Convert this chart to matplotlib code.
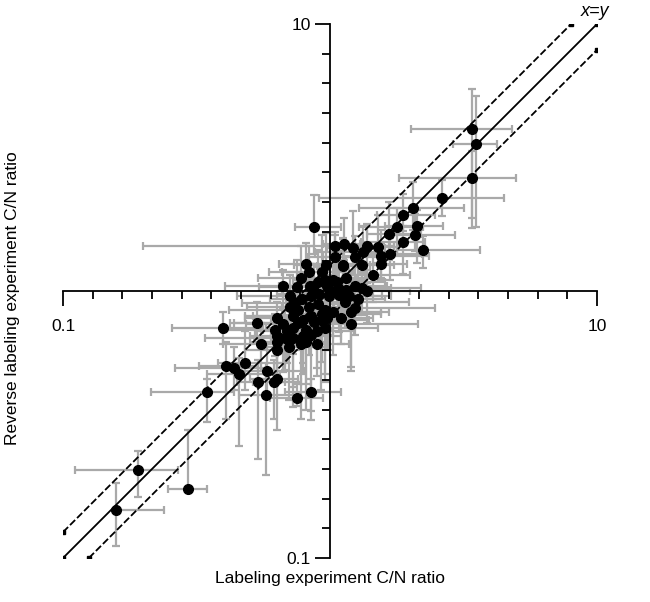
import numpy as np
import matplotlib
matplotlib.use("Agg")
import matplotlib.pyplot as plt
from matplotlib.ticker import FixedLocator, FixedFormatter

plt.rcParams["font.family"] = ["Liberation Sans", "DejaVu Sans"]

# log10 of C/N ratios, plus error bar extents (decades)
log_x = [-0.80, -0.72, -0.53, -0.46, -0.39, -0.36, -0.32, -0.34, -0.26, -0.20,
         -0.235, -0.27, -0.24, -0.21, -0.20, -0.125, -0.07, -0.40, -0.275, -0.20,
         -0.06, 0.02, 0.53, 0.547, 0.53, 0.42, 0.31, 0.275, 0.25, 0.22,
         0.325, 0.32, 0.275, 0.35, 0.225, 0.19, 0.19, 0.18, 0.14, 0.125,
         0.087, 0.052, 0.094, 0.12, 0.019, 0.048, -0.015,
         -0.11, -0.08, -0.03, -0.175, -0.125, -0.075, -0.045, -0.02, 0.025, 0.06,
         0.095, 0.12, -0.15, -0.105, -0.07, -0.04, -0.005, 0.06, 0.035, 0.055,
         -0.15, -0.12, -0.08, -0.045, -0.02, 0.01, 0.08, 0.095, -0.14, -0.10,
         -0.07, -0.035, -0.01, -0.175, -0.14, -0.09, -0.05, -0.02, -0.205, -0.20,
         -0.17, -0.14, -0.10, -0.07, 0.01, 0.14, 0.105, 0.08, -0.06, -0.20,
         -0.155, -0.09, -0.05, -0.11, 0.05, 0.16, -0.09,
         0.0, 0.03, -0.01, 0.07, -0.06, -0.13, -0.03, 0.04, -0.16, -0.12]
log_y = [-0.82, -0.67, -0.74, -0.38, -0.28, -0.29, -0.27, -0.31, -0.20, -0.19,
         -0.30, -0.34, -0.39, -0.34, -0.33, -0.40, -0.38, -0.14, -0.12, -0.10,
         0.24, 0.17, 0.605, 0.55, 0.425, 0.35, 0.31, 0.285, 0.24, 0.215,
         0.245, 0.21, 0.185, 0.155, 0.14, 0.13, 0.10, 0.165, 0.17, 0.145,
         0.16, 0.175, 0.126, 0.097, 0.128, 0.097, 0.097,
         0.05, 0.07, 0.07, 0.02, 0.015, 0.02, 0.035, 0.04, 0.035, 0.05,
         0.02, 0.01, -0.02, -0.03, -0.02, -0.01, -0.02, 0.005, -0.015, -0.04,
         -0.06, -0.07, -0.06, -0.05, -0.07, -0.08, -0.08, -0.065, -0.095, -0.11,
         -0.095, -0.11, -0.10, -0.125, -0.14, -0.145, -0.15, -0.14, -0.145, -0.17,
         -0.175, -0.175, -0.17, -0.165, 0.04, 0.0, -0.03, -0.125, -0.115, -0.22,
         -0.21, -0.19, -0.20, -0.20, 0.095, 0.06, 0.10,
         -0.005, 0.01, 0.02, -0.02, 0.0, -0.045, -0.085, -0.10, -0.15, -0.12]
xerr_lo = [0.00, 0.235, 0.075, 0.21, 0.10, 0.22, 0.10, 0.12, 0.14, 0.10,
           0.12, 0.08, 0.10, 0.08, 0.10, 0.10, 0.10, 0.19, 0.10, 0.12,
           0.07, 0.72, 0.225, 0.086, 0.27, 0.46, 0.20, 0.10, 0.14, 0.08,
           0.12, 0.10, 0.16, 0.10, 0.14, 0.10, 0.20, 0.12, 0.08, 0.18,
           0.10, 0.08, 0.12, 0.06, 0.10, 0.14, 0.12,
           0.16, 0.10, 0.20, 0.22, 0.14, 0.10, 0.08, 0.12, 0.10, 0.14,
           0.08, 0.10, 0.20, 0.12, 0.08, 0.16, 0.10, 0.12, 0.06, 0.10,
           0.16, 0.26, 0.10, 0.12, 0.08, 0.10, 0.12, 0.08, 0.18, 0.12,
           0.22, 0.08, 0.10, 0.14, 0.10, 0.16, 0.08, 0.12, 0.20, 0.10,
           0.30, 0.08, 0.12, 0.10, 0.08, 0.10, 0.14, 0.10, 0.14, 0.12,
           0.10, 0.16, 0.08, 0.10, 0.10, 0.08, 0.10,
           0.14, 0.10, 0.18, 0.08, 0.12, 0.20, 0.10, 0.16, 0.12, 0.24]
xerr_hi = [0.18, 0.15, 0.07, 0.10, 0.12, 0.12, 0.15, 0.10, 0.10, 0.12,
           0.14, 0.10, 0.12, 0.10, 0.08, 0.10, 0.11, 0.15, 0.10, 0.08,
           0.10, 0.22, 0.15, 0.078, 0.165, 0.23, 0.19, 0.12, 0.10, 0.12,
           0.10, 0.15, 0.08, 0.21, 0.12, 0.18, 0.10, 0.08, 0.10, 0.06,
           0.12, 0.06, 0.10, 0.12, 0.08, 0.10, 0.06,
           0.10, 0.14, 0.08, 0.10, 0.12, 0.10, 0.16, 0.12, 0.18, 0.10,
           0.12, 0.22, 0.08, 0.10, 0.14, 0.10, 0.20, 0.16, 0.10, 0.24,
           0.10, 0.08, 0.12, 0.16, 0.12, 0.18, 0.14, 0.30, 0.10, 0.08,
           0.12, 0.18, 0.10, 0.08, 0.12, 0.10, 0.14, 0.20, 0.08, 0.12,
           0.06, 0.10, 0.14, 0.08, 0.12, 0.16, 0.10, 0.25, 0.10, 0.10,
           0.14, 0.08, 0.12, 0.10, 0.08, 0.14, 0.10,
           0.12, 0.20, 0.08, 0.16, 0.10, 0.08, 0.22, 0.12, 0.10, 0.08]
yerr_lo = [0.135, 0.10, 0.00, 0.11, 0.20, 0.08, 0.10, 0.27, 0.10, 0.12,
           0.10, 0.29, 0.30, 0.14, 0.19, 0.03, 0.07, 0.06, 0.06, 0.07,
           0.10, 0.05, 0.33, 0.31, 0.19, 0.07, 0.08, 0.06, 0.10, 0.10,
           0.14, 0.06, 0.12, 0.07, 0.10, 0.08, 0.06, 0.06, 0.14, 0.08,
           0.10, 0.06, 0.12, 0.08, 0.08, 0.06, 0.10,
           0.08, 0.12, 0.06, 0.08, 0.10, 0.14, 0.08, 0.10, 0.08, 0.12,
           0.06, 0.10, 0.10, 0.16, 0.08, 0.12, 0.20, 0.08, 0.14, 0.10,
           0.12, 0.08, 0.18, 0.10, 0.24, 0.16, 0.22, 0.10, 0.14, 0.20,
           0.10, 0.26, 0.12, 0.18, 0.22, 0.30, 0.14, 0.20, 0.10, 0.16,
           0.12, 0.26, 0.10, 0.32, 0.06, 0.12, 0.06, 0.16, 0.08, 0.10,
           0.20, 0.16, 0.12, 0.28, 0.08, 0.10, 0.12,
           0.12, 0.08, 0.16, 0.10, 0.06, 0.14, 0.18, 0.10, 0.12, 0.08]
yerr_hi = [0.10, 0.07, 0.22, 0.05, 0.09, 0.08, 0.12, 0.06, 0.08, 0.10,
           0.10, 0.08, 0.06, 0.08, 0.06, 0.05, 0.05, 0.06, 0.08, 0.06,
           0.12, 0.05, 0.15, 0.18, 0.10, 0.065, 0.10, 0.08, 0.07, 0.12,
           0.06, 0.08, 0.06, 0.05, 0.06, 0.10, 0.08, 0.12, 0.08, 0.10,
           0.14, 0.10, 0.08, 0.06, 0.08, 0.10, 0.12,
           0.12, 0.10, 0.14, 0.06, 0.10, 0.08, 0.12, 0.06, 0.10, 0.08,
           0.10, 0.06, 0.08, 0.06, 0.12, 0.10, 0.08, 0.06, 0.10, 0.06,
           0.08, 0.10, 0.06, 0.08, 0.06, 0.10, 0.08, 0.06, 0.08, 0.06,
           0.10, 0.06, 0.08, 0.06, 0.08, 0.06, 0.10, 0.08, 0.06, 0.08,
           0.10, 0.06, 0.08, 0.06, 0.10, 0.08, 0.12, 0.08, 0.10, 0.08,
           0.06, 0.10, 0.08, 0.06, 0.10, 0.08, 0.08,
           0.10, 0.14, 0.08, 0.12, 0.10, 0.06, 0.08, 0.12, 0.06, 0.10]

x_ticks = [0.1, 10]
x_labels = ["0.1", "10"]
band = 1.25  # dashed guide lines at x*1.25 and x/1.25

x = 10 ** np.array(log_x)
y = 10 ** np.array(log_y)
xe = [x - x * 10 ** -np.array(xerr_lo), x * 10 ** np.array(xerr_hi) - x]
ye = [y - y * 10 ** -np.array(yerr_lo), y * 10 ** np.array(yerr_hi) - y]

fig = plt.figure(figsize=(6.5, 6.02), dpi=100)
ax = fig.add_axes([63 / 650, 44 / 602, 534 / 650, 534 / 602])
ax.set_xscale("log")
ax.set_yscale("log")
ax.set_xlim(0.1, 10)
ax.set_ylim(0.1, 10)

ax.errorbar(x, y, xerr=xe, yerr=ye, fmt="none", ecolor="#a9a9a9",
            elinewidth=1.6, capsize=3, capthick=1.6, zorder=1)

lk = dict(color="black", lw=1.3, marker="s", ms=2.4, markevery=[0, -1], zorder=2)
ax.plot([0.1, 10], [0.1, 10], **lk)
ax.plot([0.1, 10 / band], [0.1 * band, 10], ls=(0, (4, 1.5)), **lk)
ax.plot([0.1 * band, 10], [0.1, 10 / band], ls=(0, (4, 1.5)), **lk)
ax.plot(x, y, "o", color="black", ms=7, zorder=3)

for s in ["top", "right"]:
    ax.spines[s].set_visible(False)
for s in ["left", "bottom"]:
    ax.spines[s].set_position(("data", 1))
    ax.spines[s].set_linewidth(1.3)
    ax.spines[s].set_zorder(4)

minor = [10 ** (k / 9) for k in range(-8, 9) if k != 0]
for axis in (ax.xaxis, ax.yaxis):
    axis.set_major_locator(FixedLocator(x_ticks))
    axis.set_major_formatter(FixedFormatter(x_labels))
    axis.set_minor_locator(FixedLocator(minor))
    axis.set_minor_formatter(FixedFormatter([""] * len(minor)))
ax.tick_params(which="major", direction="out", length=11, width=1.3, labelsize=12.5, pad=3)
ax.tick_params(axis="x", which="major", pad=9)
ax.tick_params(which="minor", direction="out", length=5.5, width=1.3)

ax.text(0.97, 1.008, "x=y", transform=ax.transAxes, fontsize=13, style="italic",
        ha="left", va="bottom")
fig.text(330 / 650, 1 - 578 / 602, "Labeling experiment C/N ratio", fontsize=12.5,
         ha="center", va="center")
fig.text(13 / 650, 1 - 298 / 602, "Reverse labeling experiment C/N ratio", fontsize=12.5,
         ha="center", va="center", rotation=90)

fig.savefig("out.png", dpi=100)
